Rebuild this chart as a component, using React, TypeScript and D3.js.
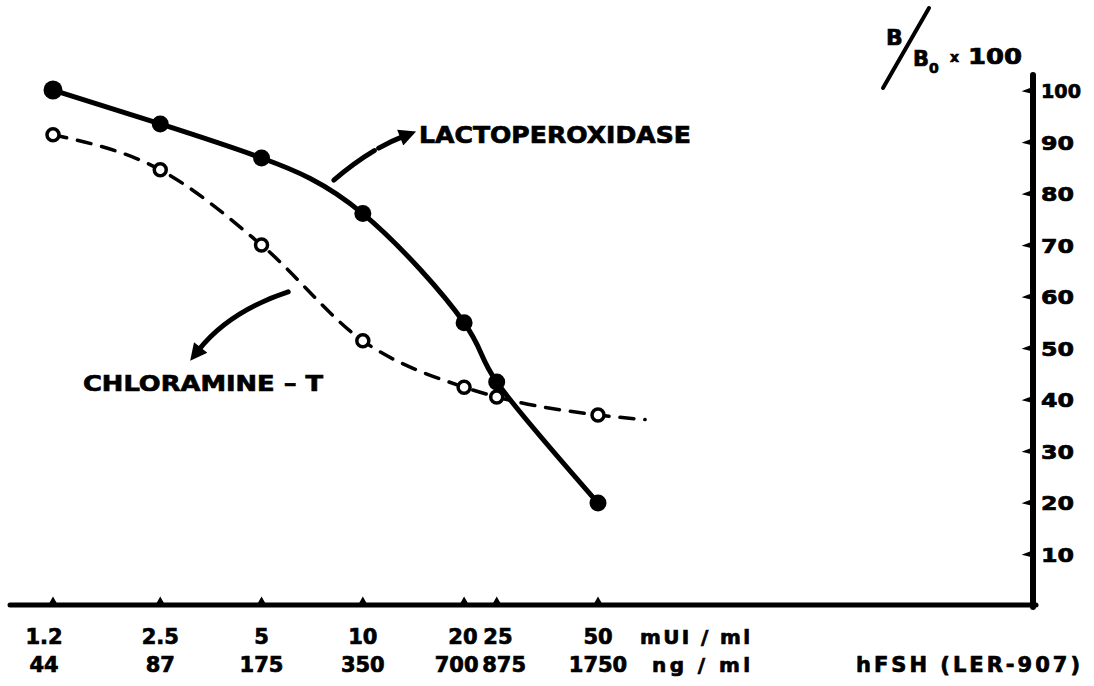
import React from "react";
import * as d3 from "d3";

const doses = [1.2, 2.5, 5, 10, 20, 25, 50];
const doseLabels = ["1.2", "2.5", "5", "10", "20", "25", "50"];
const ngLabels = ["44", "87", "175", "350", "700", "875", "1750"];
const lactoperoxidase = [100, 93.4, 86.8, 76, 54.8, 43.3, 19.8];
const chloramineT = [91.3, 84.5, 69.9, 51.3, 42.3, 40.4, 36.9];
const chloramineTailDose = [69];
const chloramineTailValue = [36];
const yTicks = [10, 20, 30, 40, 50, 60, 70, 80, 90, 100];

const W = 1094;
const H = 686;
const FONT = "'DejaVu Sans', Verdana, sans-serif";
const heavy = { fontFamily: FONT, fontWeight: "bold" as const, stroke: "#000", strokeWidth: 0.7 };

function relax(xs: number[], widths: number[], pad: number) {
  const out = xs.slice();
  for (let k = 0; k < 20; k++) {
    for (let i = 0; i < out.length - 1; i++) {
      const need = (widths[i] + widths[i + 1]) / 2 + pad;
      const gap = out[i + 1] - out[i];
      if (gap < need) {
        const push = (need - gap) / 2;
        out[i] -= push;
        out[i + 1] += push;
      }
    }
  }
  return out;
}

export default function App() {
  const x = d3.scaleLog().domain([1.2, 50]).range([53, 598]);
  const y = d3.scaleLinear().domain([0, 100]).range([605, 90]);
  const axisX = 1033;
  const axisY = y(0);

  const lactoPts: [number, number][] = doses.map((d, i) => [x(d), y(lactoperoxidase[i])]);
  const chlorPts: [number, number][] = doses.map((d, i) => [x(d), y(chloramineT[i])]);
  const chlorAll: [number, number][] = chlorPts.concat(
    chloramineTailDose.map((d, i) => [x(d), y(chloramineTailValue[i])] as [number, number])
  );

  const lactoLine = d3.line<[number, number]>().curve(d3.curveNatural);
  const chlorLine = d3.line<[number, number]>().curve(d3.curveMonotoneX);

  const row1X = relax(
    doses.map((d) => x(d)),
    doseLabels.map((s) => s.replace(".", "").length * 13.5 + (s.includes(".") ? 6 : 0)),
    8
  );
  const ngX = relax(
    doses.map((d) => x(d)),
    ngLabels.map((s) => s.length * 14.5),
    4
  );

  // annotation arrows (anchored in data space)
  const lp = d3.path();
  lp.moveTo(x(8.2), y(82.5));
  lp.quadraticCurveTo(x(10.5), y(88.5), x(13.2), y(91));
  const cp = d3.path();
  cp.moveTo(x(6.0), y(60.8));
  cp.quadraticCurveTo(x(4.0), y(57), x(3.25), y(49.5));

  return (
    <svg
      width={W}
      height={H}
      viewBox={`0 0 ${W} ${H}`}
      style={{ position: "absolute", left: 0, top: 0, background: "#fff" }}
    >
      <defs>
        <marker
          id="ah"
          viewBox="0 0 10 10"
          refX="2"
          refY="5"
          markerWidth="4.2"
          markerHeight="3.4"
          orient="auto"
          markerUnits="strokeWidth"
        >
          <path d="M0,0 L10,5 L0,10 z" fill="#000" />
        </marker>
      </defs>

      {/* axes */}
      <line x1={10} y1={axisY} x2={axisX + 3} y2={axisY} stroke="#000" strokeWidth={5} strokeLinecap="round" />
      <line x1={axisX} y1={75} x2={axisX} y2={axisY + 2} stroke="#000" strokeWidth={6} strokeLinecap="round" />

      {/* y ticks */}
      {yTicks.map((t) => (
        <g key={t}>
          <path
            d={`M${axisX - 8},${y(t) + 1} L${axisX},${y(t) - 2} L${axisX},${y(t) + 3} Z`}
            fill="#000"
            stroke="#000"
            strokeWidth={2}
          />
          <text
            x={axisX + 8}
            y={y(t) + 8}
            {...heavy}
            fontSize={20}
            textLength={t === 100 ? 40 : 33}
            lengthAdjust="spacingAndGlyphs"
          >
            {t}
          </text>
        </g>
      ))}

      {/* x ticks */}
      {doses.map((d) => (
        <path
          key={d}
          d={`M${x(d) - 4},${axisY} L${x(d)},${axisY - 7} L${x(d) + 4},${axisY} Z`}
          fill="#000"
          stroke="#000"
          strokeWidth={1.5}
        />
      ))}

      {/* x labels row 1 */}
      {doses.map((d, i) => (
        <text key={"a" + d} x={row1X[i] - (i === 0 ? 9 : 0)} y={644} textAnchor="middle" {...heavy} fontSize={21}>
          {doseLabels[i]}
        </text>
      ))}
      <text x={640} y={644} {...heavy} fontSize={20} textLength={110} lengthAdjust="spacing">
        mUI / ml
      </text>

      {/* x labels row 2 */}
      {ngLabels.map((s, i) => (
        <text key={"b" + s} x={ngX[i] - (i === 0 ? 9 : 0)} y={672} textAnchor="middle" {...heavy} fontSize={21}>
          {s}
        </text>
      ))}
      <text x={652} y={672} {...heavy} fontSize={20} textLength={98} lengthAdjust="spacing">
        ng / ml
      </text>
      <text x={856} y={672} {...heavy} fontSize={21} textLength={224} lengthAdjust="spacing">
        hFSH (LER-907)
      </text>

      {/* y axis title */}
      <text x={886} y={45} {...heavy} fontSize={22}>
        B
      </text>
      <line x1={883} y1={88} x2={929} y2={8} stroke="#000" strokeWidth={4} strokeLinecap="round" />
      <text x={913} y={66} {...heavy} fontSize={21}>
        B
      </text>
      <text x={929} y={73} {...heavy} fontSize={14}>
        0
      </text>
      <text x={950} y={62} {...heavy} fontSize={14}>
        x
      </text>
      <text x={968} y={64} {...heavy} fontSize={21} textLength={54} lengthAdjust="spacingAndGlyphs">
        100
      </text>

      {/* chloramine-T dashed curve */}
      <path
        d={chlorLine(chlorAll) || ""}
        fill="none"
        stroke="#000"
        strokeWidth={3.5}
        strokeDasharray="14 11"
        strokeLinecap="round"
      />
      {/* lactoperoxidase curve */}
      <path d={lactoLine(lactoPts) || ""} fill="none" stroke="#000" strokeWidth={5} strokeLinecap="round" />

      {lactoPts.map((p, i) => (
        <circle key={"l" + i} cx={p[0]} cy={p[1]} r={i === 0 ? 9.5 : 8.5} fill="#000" />
      ))}
      {chlorPts.map((p, i) => (
        <circle key={"c" + i} cx={p[0]} cy={p[1]} r={6} fill="#fff" stroke="#000" strokeWidth={3.5} />
      ))}

      {/* annotations */}
      <path
        d={lp.toString()}
        fill="none"
        stroke="#000"
        strokeWidth={5}
        strokeLinecap="round"
        strokeDasharray="50 5 40"
        markerEnd="url(#ah)"
      />
      <text x={419} y={143} {...heavy} fontSize={23} textLength={272} lengthAdjust="spacingAndGlyphs">
        LACTOPEROXIDASE
      </text>
      <path d={cp.toString()} fill="none" stroke="#000" strokeWidth={5} strokeLinecap="round" markerEnd="url(#ah)" />
      <text x={83} y={391} {...heavy} fontSize={22} textLength={240} lengthAdjust="spacingAndGlyphs">
        CHLORAMINE – T
      </text>
    </svg>
  );
}
